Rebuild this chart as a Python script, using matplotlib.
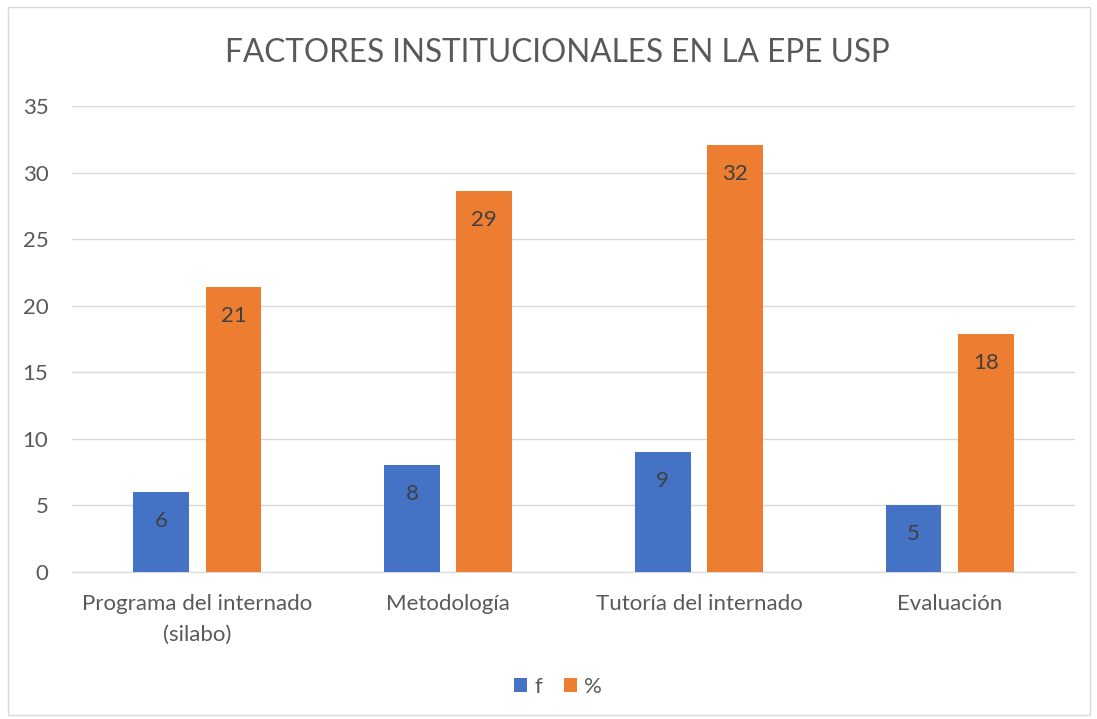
import matplotlib
matplotlib.use("Agg")
import matplotlib.pyplot as plt
import numpy as np
from matplotlib.patches import Rectangle

categories = ["Programa del internado\n(silabo)", "Metodología", "Tutoría del internado", "Evaluación"]
f_values = [6, 8, 9, 5]
pct_values = [21.4, 28.6, 32.1, 17.9]
series_names = ["f", "%"]
yticks = [0, 5, 10, 15, 20, 25, 30, 35]

plt.rcParams['font.family'] = ['Lato', 'DejaVu Sans']
gray = "#595959"
fs = 16

fig = plt.figure(figsize=(10.97, 7.19), dpi=100)
fig.patches.append(Rectangle((8/1097, 4/719), 1082/1097, 708/719, transform=fig.transFigure,
                             fill=False, edgecolor="#d9d9d9", linewidth=1.0))
ax = fig.add_axes([72/1097, 147/719, 1003/1097, 466/719])

x = np.arange(len(categories))
w = 0.223
off = 0.144
b1 = ax.bar(x - off, f_values, w, color="#4472C4", label=series_names[0], zorder=3)
b2 = ax.bar(x + off, pct_values, w, color="#ED7D31", label=series_names[1], zorder=3)

for bars, vals in ((b1, f_values), (b2, pct_values)):
    for b, v in zip(bars, vals):
        ax.annotate(f"{v:.0f}", (b.get_x() + b.get_width()/2, b.get_height()),
                    xytext=(0, -29), textcoords="offset pixels",
                    ha="center", va="center", fontsize=fs, color="#404040", zorder=4)

ax.set_xlim(-0.5, len(categories) - 0.5)
ax.set_ylim(0, 35)
ax.set_yticks(yticks)
ax.yaxis.grid(True, color="#d9d9d9", linewidth=1.0, zorder=0)
ax.set_axisbelow(True)
for s in ["top", "right", "left"]:
    ax.spines[s].set_visible(False)
ax.spines["bottom"].set_color("#d9d9d9")
ax.tick_params(axis="both", length=0, labelsize=fs, colors=gray)
ax.tick_params(axis="y", pad=17)
ax.tick_params(axis="x", pad=16)
ax.set_xticks(x)
ax.set_xticklabels(categories, linespacing=1.65)

fig.text(557/1097, 1 - 53/719, "FACTORES INSTITUCIONALES EN LA EPE USP", ha="center", va="center",
         fontsize=22.7, color=gray, fontweight="normal")

fig.legend(handles=[b1, b2], labels=series_names, loc="center", bbox_to_anchor=(558/1097, 1 - 687/719),
           ncol=2, frameon=False, fontsize=fs, labelcolor=gray, handlelength=0.6, handleheight=0.6,
           handletextpad=0.3, columnspacing=1.0)

fig.savefig("out.png", dpi=100)
